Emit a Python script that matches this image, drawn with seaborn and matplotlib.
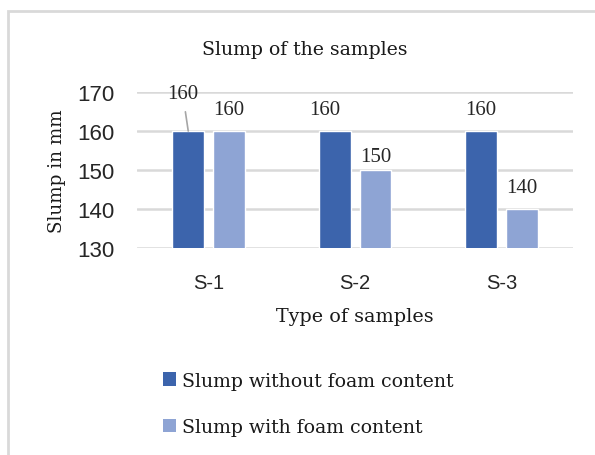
import numpy as np
import pandas as pd
import seaborn as sns
import matplotlib.pyplot as plt
from matplotlib.patches import Rectangle, Patch

# Daten
SAMPLES = ['S-1', 'S-2', 'S-3']
SLUMP_NO_FOAM = [160, 160, 160]
SLUMP_FOAM = [160, 150, 140]
SERIES = ['Slump without foam content', 'Slump with foam content']
COLORS = ['#3C64AC', '#8EA4D4']
Y_TICKS = [130, 140, 150, 160, 170]

df = pd.DataFrame({
    'sample': SAMPLES * 2,
    'slump': SLUMP_NO_FOAM + SLUMP_FOAM,
    'series': [SERIES[0]] * len(SAMPLES) + [SERIES[1]] * len(SAMPLES),
})

sns.set_style('white')
SERIF = ['DejaVu Serif']
NUM_SERIF = ['Liberation Serif', 'DejaVu Serif']
SANS = ['Liberation Sans', 'DejaVu Sans']
TXT = '#1a1a1a'

fig = plt.figure(figsize=(5.95, 4.56), dpi=100)
ax = fig.add_axes([0.2303, 0.4539, 0.7327, 0.3421])

sns.barplot(data=df, x='sample', y='slump', hue='series', palette=COLORS,
            width=0.56, gap=0.22, ax=ax, legend=False, saturation=1)

ax.set_ylim(Y_TICKS[0], Y_TICKS[-1])
ax.set_xlim(-0.49, 2.49)
ax.set_yticks(Y_TICKS)
ax.grid(axis='y', color='#D9D9D9', linewidth=1.8)
ax.set_axisbelow(True)
for s in ax.spines.values():
    s.set_visible(False)
ax.tick_params(axis='x', length=0, labelsize=14.5, colors='#262626', pad=18)
ax.tick_params(axis='y', length=0, labelsize=16, colors='#262626', pad=16)
for lab in ax.get_xticklabels() + ax.get_yticklabels():
    lab.set_fontfamily(SANS)

ax.set_xlabel('Type of samples', fontsize=13.8, family=SERIF, color=TXT, labelpad=11)
ax.set_ylabel('Slump in mm', fontsize=13.2, family=SERIF, color=TXT, labelpad=8)
# Titel ist im Original auf die Abbildung zentriert, nicht auf die Achse
fig.text(305 / 595, 1 - 50 / 456, 'Slump of the samples', ha='center', va='center',
         fontsize=13.6, family=SERIF, color=TXT)

# Datenbeschriftungen (Versatz in Punkten, wie im Original leicht unregelmaessig)
label_shift = {(1, 0): (-7, 15.8), (1, 1): (0, 9.7)}
for i, cont in enumerate(ax.containers):
    for j, bar in enumerate(cont):
        xc = bar.get_x() + bar.get_width() / 2
        h = bar.get_height()
        if i == 0 and j == 0:
            # Beschriftung mit Fuehrungslinie
            ax.annotate(f'{h:.0f}', xy=(xc, h), xytext=(-4, 27), textcoords='offset points',
                        ha='center', va='center', fontsize=15, family=NUM_SERIF, color='#262626',
                        annotation_clip=False,
                        arrowprops=dict(arrowstyle='-', color='#A6A6A6', lw=1.2,
                                        shrinkA=4, shrinkB=0))
        else:
            dx, dy = label_shift.get((j, i), (0, 15.8))
            ax.annotate(f'{h:.0f}', xy=(xc, h), xytext=(dx, dy), textcoords='offset points',
                        ha='center', va='center', fontsize=15, family=NUM_SERIF, color='#262626')

# Legende
handles = [Patch(facecolor=c, edgecolor='none') for c in COLORS]
leg = fig.legend(handles, SERIES, loc='upper left', bbox_to_anchor=(0.245, 0.22),
                 frameon=False, handlelength=0.7, handleheight=0.7, handletextpad=0.3,
                 labelspacing=1.5, prop={'family': SERIF, 'size': 13.6})
for t in leg.get_texts():
    t.set_color(TXT)

# Rahmen
fig.patches.append(Rectangle((8 / 595, -0.1), 1.2, 0.1 + (456 - 12) / 456,
                             transform=fig.transFigure, fill=False,
                             edgecolor='#D9D9D9', linewidth=2))

fig.savefig('out.png', dpi=100)
